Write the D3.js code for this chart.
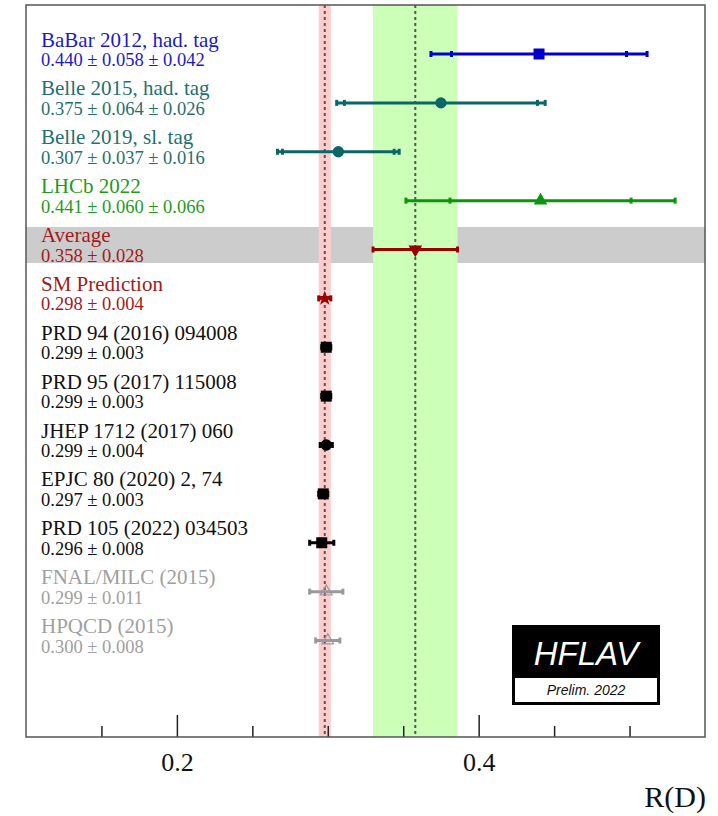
<!DOCTYPE html>
<html>
<head>
<meta charset="utf-8">
<script src="https://cdn.jsdelivr.net/npm/d3@7"></script>
<style>
  body { margin: 0; background: #fff; }
  svg { display: block; }
</style>
</head>
<body>
<svg id="chart" width="718" height="816"></svg>
<script>
// measurements, top to bottom
const names = [
  'BaBar 2012, had. tag', 'Belle 2015, had. tag', 'Belle 2019, sl. tag', 'LHCb 2022',
  'Average', 'SM Prediction',
  'PRD 94 (2016) 094008', 'PRD 95 (2017) 115008', 'JHEP 1712 (2017) 060',
  'EPJC 80 (2020) 2, 74', 'PRD 105 (2022) 034503', 'FNAL/MILC (2015)', 'HPQCD (2015)'
]
const values = [0.440, 0.375, 0.307, 0.441, 0.358, 0.298, 0.299, 0.299, 0.299, 0.297, 0.296, 0.299, 0.300]
const statErrs = [0.058, 0.064, 0.037, 0.060, 0.028, 0.004, 0.003, 0.003, 0.004, 0.003, 0.008, 0.011, 0.008]
const systErrs = [0.042, 0.026, 0.016, 0.066, null, null, null, null, null, null, null, null, null]
const markers = ['square', 'circle', 'circle', 'triangle', 'triangleDown', 'star',
  'square', 'square', 'circle', 'square', 'square', 'openTriangle', 'openTriangle']
const colors = ['#0000cc', '#0b6666', '#0b6666', '#0a960a', '#990000', '#990000',
  '#000', '#000', '#000', '#000', '#000', '#999', '#999']
const textColors = ['#1a1acc', '#1f7070', '#1f7070', '#1f9a1f', '#a31a1a', '#a31a1a',
  '#111', '#111', '#111', '#111', '#111', '#a0a0a0', '#a0a0a0']

const smValue = 0.298
const smErr = 0.004
const avgIndex = 4

const majorTicks = [0.2, 0.4]
const minorTicks = [0.15, 0.25, 0.3, 0.35, 0.45, 0.5]

const margin = { top: 5, left: 26, right: 13, bottom: 79 }
const width = 718
const height = 816

const root = d3.select('#chart')
const fmt = d3.format('.3f')
const serif = '"Liberation Serif", "Times New Roman", serif'
const sans = '"Liberation Sans", Arial, sans-serif'

const x = d3.scaleLinear()
  .domain([0.1, 0.55])
  .range([margin.left, width - margin.right])

const y = d3.scaleLinear()
  .domain([0, names.length - 1])
  .range([54, 640.5])

const plotTop = margin.top
const plotBottom = height - margin.bottom

// average row band
root.append('rect')
  .attr('x', x.range()[0]).attr('width', x.range()[1] - x.range()[0])
  .attr('y', y(avgIndex) - 22.5).attr('height', 36)
  .attr('fill', '#cccccc')

// SM and average bands
root.append('rect')
  .attr('x', x(smValue - smErr)).attr('width', x(smValue + smErr) - x(smValue - smErr))
  .attr('y', plotTop).attr('height', plotBottom - plotTop)
  .attr('fill', '#ffcccc')

root.append('rect')
  .attr('x', x(values[avgIndex] - statErrs[avgIndex]))
  .attr('width', x(values[avgIndex] + statErrs[avgIndex]) - x(values[avgIndex] - statErrs[avgIndex]))
  .attr('y', plotTop).attr('height', plotBottom - plotTop)
  .attr('fill', '#ccffb8')

root.selectAll('.centralLine')
  .data([smValue, values[avgIndex]])
  .enter().append('line')
  .attr('class', 'centralLine')
  .attr('x1', d => x(d)).attr('x2', d => x(d))
  .attr('y1', plotTop).attr('y2', plotBottom)
  .attr('stroke', '#555')
  .attr('stroke-width', 2)
  .attr('stroke-dasharray', '3,3')

// axis
const majorAxis = g => g
  .attr('transform', `translate(0, ${plotBottom})`)
  .call(d3.axisBottom(x).tickValues(majorTicks).tickSize(-22).tickPadding(16).tickFormat(d3.format('.1f')))

const minorAxis = g => g
  .attr('transform', `translate(0, ${plotBottom})`)
  .call(d3.axisBottom(x).tickValues(minorTicks).tickSize(-11).tickFormat(''))

root.append('g').attr('class', 'minorAxis').call(minorAxis)
root.append('g').attr('class', 'majorAxis').call(majorAxis)

root.selectAll('.minorAxis path, .majorAxis path').remove()
root.selectAll('.minorAxis line, .majorAxis line')
  .attr('stroke', '#222').attr('stroke-width', 1.5)
root.selectAll('.majorAxis text')
  .attr('fill', '#111')
  .style('font-family', serif)
  .style('font-size', '26px')

root.append('text')
  .attr('x', width - 12).attr('y', 807)
  .attr('text-anchor', 'end')
  .attr('fill', '#111')
  .style('font-family', serif)
  .style('font-size', '30px')
  .text('R(D)')

// frame
root.append('rect')
  .attr('x', x.range()[0]).attr('y', plotTop)
  .attr('width', x.range()[1] - x.range()[0]).attr('height', plotBottom - plotTop)
  .attr('fill', 'none')
  .attr('stroke', '#555')
  .attr('stroke-width', 1.5)

// rows
const rows = names.map((name, i) => ({
  name,
  value: values[i],
  stat: statErrs[i],
  syst: systErrs[i],
  total: systErrs[i] == null ? statErrs[i] : Math.hypot(statErrs[i], systErrs[i]),
  marker: markers[i],
  color: colors[i],
  textColor: textColors[i],
  index: i
}))

const row = root.selectAll('.row')
  .data(rows)
  .enter().append('g')
  .attr('class', 'row')

row.append('text')
  .attr('x', 41).attr('y', d => y(d.index) - 7.5)
  .attr('fill', d => d.textColor)
  .style('font-family', serif)
  .style('font-size', '21px')
  .text(d => d.name)

row.append('text')
  .attr('x', 41).attr('y', d => y(d.index) + 12)
  .attr('fill', d => d.textColor)
  .style('font-family', serif)
  .style('font-size', '18.5px')
  .text(d => d.syst == null
    ? `${fmt(d.value)} \u00b1 ${fmt(d.stat)}`
    : `${fmt(d.value)} \u00b1 ${fmt(d.stat)} \u00b1 ${fmt(d.syst)}`)

// error bars
row.append('line')
  .attr('x1', d => x(d.value - d.total)).attr('x2', d => x(d.value + d.total))
  .attr('y1', d => y(d.index)).attr('y2', d => y(d.index))
  .attr('stroke', d => d.color)
  .attr('stroke-width', 3)

row.selectAll('.cap')
  .data(d => {
    const caps = [d.value - d.total, d.value + d.total]
    if (d.syst != null) caps.push(d.value - d.stat, d.value + d.stat)
    return caps.map(v => ({ v, d }))
  })
  .enter().append('rect')
  .attr('class', 'cap')
  .attr('x', c => x(c.v) - 1.5).attr('width', 3)
  .attr('y', c => y(c.d.index) - 3).attr('height', 6)
  .attr('fill', c => c.d.color)

// markers
const shape = {
  square: d3.symbol(d3.symbolSquare, 121),
  circle: d3.symbol(d3.symbolCircle, 100),
  triangle: d3.symbol(d3.symbolTriangle, 80),
  triangleDown: d3.symbol(d3.symbolTriangle, 80),
  star: d3.symbol(d3.symbolStar, 70),
  openTriangle: d3.symbol(d3.symbolTriangle, 60)
}

row.append('path')
  .attr('d', d => shape[d.marker]())
  .attr('transform', d => `translate(${x(d.value)}, ${y(d.index)})` + (d.marker === 'triangleDown' ? ' rotate(180)' : ''))
  .attr('fill', d => d.marker === 'openTriangle' ? 'none' : d.color)
  .attr('stroke', d => d.marker === 'openTriangle' ? d.color : 'none')
  .attr('stroke-width', 1.2)

// HFLAV logo
const logo = root.append('g').attr('transform', 'translate(512, 625)')
logo.append('rect').attr('width', 148).attr('height', 80).attr('fill', '#000')
logo.append('rect').attr('x', 3).attr('y', 53).attr('width', 142).attr('height', 24)
  .attr('fill', '#fff')
logo.append('text')
  .attr('x', 74).attr('y', 40)
  .attr('text-anchor', 'middle')
  .attr('fill', '#fff')
  .style('font-family', sans)
  .style('font-style', 'italic')
  .style('font-size', '33px')
  .text('HFLAV')
logo.append('text')
  .attr('x', 74).attr('y', 70)
  .attr('text-anchor', 'middle')
  .attr('fill', '#111')
  .style('font-family', sans)
  .style('font-style', 'italic')
  .style('font-size', '14px')
  .text('Prelim. 2022')
</script>
</body>
</html>
